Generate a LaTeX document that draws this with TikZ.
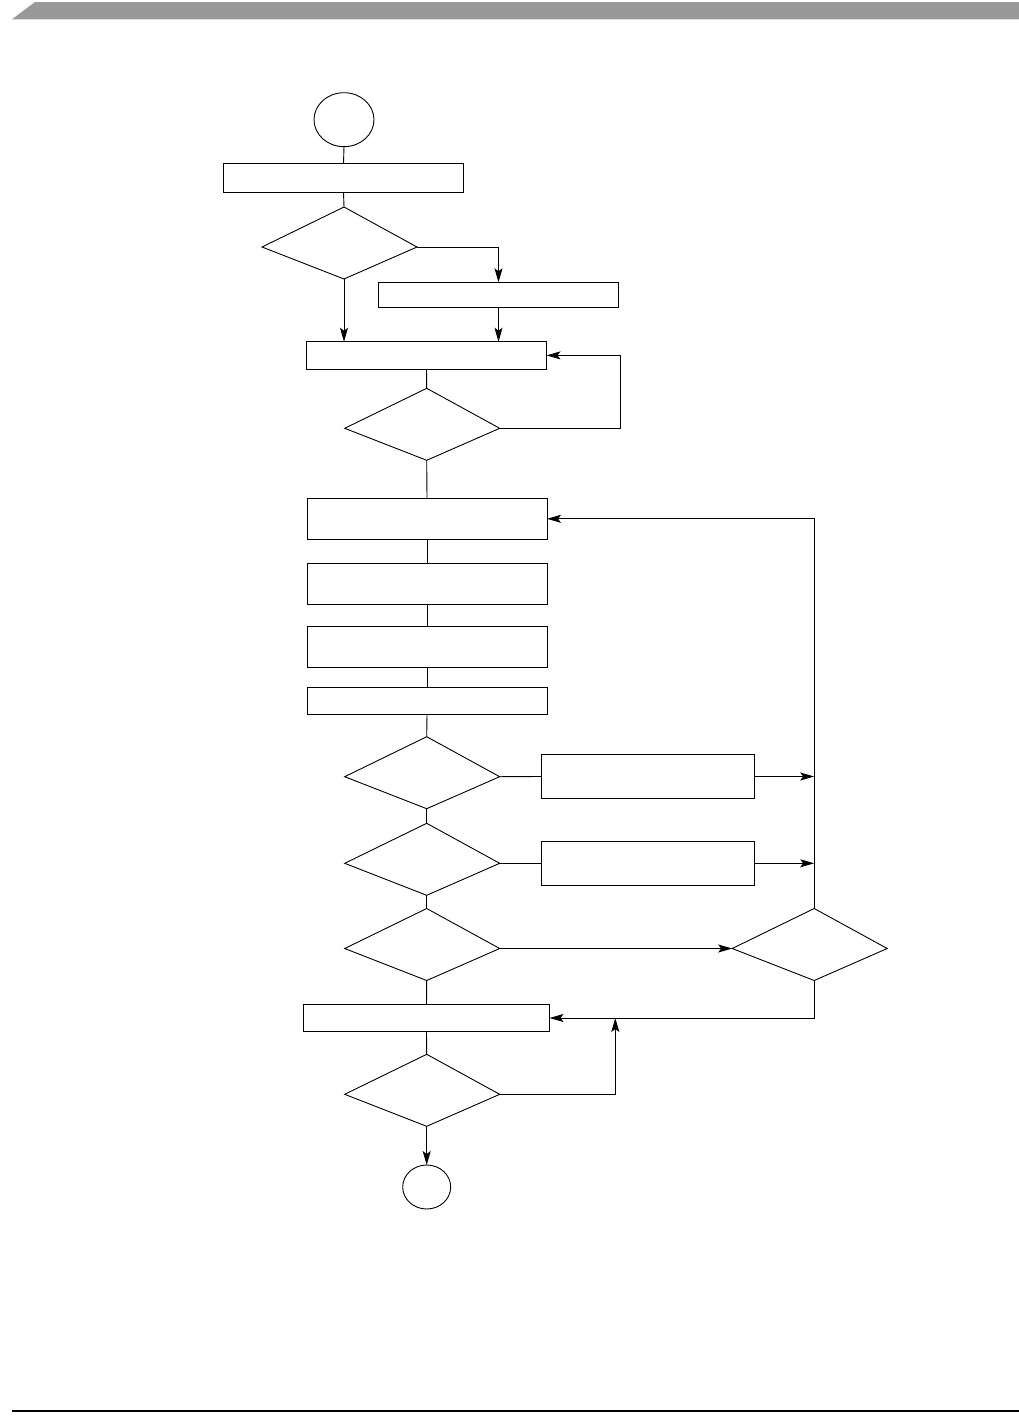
\documentclass[tikz,border=0pt]{standalone}
\usetikzlibrary{shapes.geometric,arrows.meta}
\definecolor{hdr}{RGB}{153,153,153}
% asymmetric decision diamond: top 40, bottom 32, right 73, left 82
\makeatletter
\pgfdeclareshape{fdiamond}{
  \anchor{center}{\pgfpointorigin}
  \anchor{text}{\pgfpointorigin}
  \anchor{north}{\pgfpoint{0pt}{40pt}}
  \anchor{south}{\pgfpoint{0pt}{-32pt}}
  \anchor{east}{\pgfpoint{73pt}{0pt}}
  \anchor{west}{\pgfpoint{-82pt}{0pt}}
  \backgroundpath{
    \pgfpathmoveto{\pgfpoint{0pt}{40pt}}
    \pgfpathlineto{\pgfpoint{73pt}{0pt}}
    \pgfpathlineto{\pgfpoint{0pt}{-32pt}}
    \pgfpathlineto{\pgfpoint{-82pt}{0pt}}
    \pgfpathclose
  }
}
\makeatother
\begin{document}
\begin{tikzpicture}[x=1pt,y=-1pt,
  line width=0.9pt,
  boxnode/.style={draw,rectangle,inner sep=0pt,outer sep=0pt,minimum width=240pt},
  decnode/.style={draw,fdiamond,inner sep=0pt,outer sep=0pt},
  termnode/.style={draw,ellipse,inner sep=0pt,outer sep=0pt},
  arr/.style={-{Stealth[length=14pt,width=8pt,inset=3pt]}}]
\useasboundingbox (0,0) rectangle (1019,1419);
% header and footer
\fill[hdr] (12,19.3) -- (35,2) -- (1019,2) -- (1019,19.3) -- cycle;
\draw[line width=1.3pt] (12,1411) -- (1019,1411);

% nodes
\node[termnode,minimum width=60pt,minimum height=54pt] (start) at (344,119.7) {};
\node[boxnode,minimum height=29pt] (b1) at (343.5,177.8) {};
\node[decnode] (d1) at (344,247) {};
\node[boxnode,minimum height=25pt] (b2) at (498.5,294.8) {};
\node[boxnode,minimum height=27.3pt] (b3) at (426.5,355.4) {};
\node[decnode] (d2) at (426.7,428.3) {};
\node[boxnode,minimum height=41pt] (b4) at (427,518.8) {};
\node[boxnode,minimum height=41pt] (b5) at (427,583.8) {};
\node[boxnode,minimum height=40.6pt] (b6) at (427,647) {};
\node[boxnode,minimum height=26.3pt] (b7) at (427,700.9) {};
\node[decnode] (d3) at (426.7,776.7) {};
\node[boxnode,minimum width=213pt,minimum height=44pt] (b8) at (648,776.5) {};
\node[decnode] (d4) at (426.7,863.3) {};
\node[boxnode,minimum width=213pt,minimum height=44pt] (b9) at (648,863.3) {};
\node[decnode] (d5) at (426.7,948.5) {};
\node[decnode] (d6) at (814.2,948.5) {};
\node[boxnode,minimum width=246pt,minimum height=27.4pt] (b10) at (426.5,1018) {};
\node[decnode] (d7) at (426.7,1094.3) {};
\node[termnode,minimum width=48pt,minimum height=44pt] (end) at (426.7,1187) {};

\coordinate (loopA) at (620.3,0);
\coordinate (loopB) at (615.3,0);

% connectors
\draw (start.south) -- (b1.north);
\draw (b1.south) -- (d1.north);
\draw[arr] (d1.east) -| (b2.north);
\draw[arr] (d1.south) -- (d1.south |- b3.north);
\draw[arr] (b2.south) -- (b2.south |- b3.north);
\draw (b3.south) -- (d2.north);
\draw[arr] (d2.east) -- (d2.east -| loopA) |- (b3.east);
\draw (d2.south) -- (b4.north);
\draw (b4.south) -- (b5.north);
\draw (b5.south) -- (b6.north);
\draw (b6.south) -- (b7.north);
\draw (b7.south) -- (d3.north);
\draw (d3.south) -- (d4.north);
\draw (d4.south) -- (d5.north);
\draw (d5.south) -- (b10.north);
\draw (d3.east) -- (b8.west);
\draw (d4.east) -- (b9.west);
\draw[arr] (b8.east) -- (b8.east -| d6.north);
\draw[arr] (b9.east) -- (b9.east -| d6.north);
\draw[arr] (d5.east) -- (d6.west);
\draw[arr] (d6.north) |- (b4.east);
\draw[arr] (d6.south) |- (b10.east);
\draw[arr] (d7.east) -| (loopB |- b10.east);
\draw (b10.south) -- (d7.north);
\draw[arr] (d7.south) -- (end.north);
\end{tikzpicture}
\end{document}
